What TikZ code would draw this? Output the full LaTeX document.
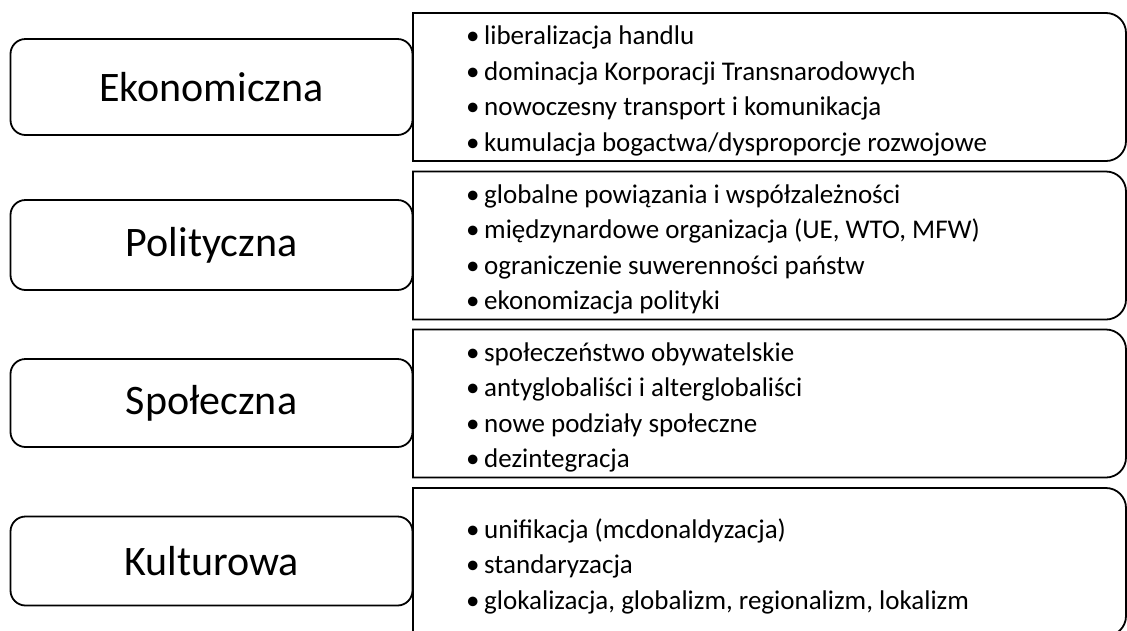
\documentclass[tikz,border=0pt]{standalone}
\usepackage{fontspec}
\setmainfont{Carlito}
\usetikzlibrary{calc}
\newcommand\bul[1]{\makebox[18pt][l]{•}#1}
\begin{document}
\begin{tikzpicture}[x=1pt,y=1pt,
  boxline/.style={draw=black,line width=1.8pt},
  catbox/.style={boxline,fill=white,rounded corners=15pt,minimum width=402pt,inner sep=0pt,outer sep=0pt,font=\fontsize{42}{50}\selectfont},
  rarea/.style={draw=none,minimum width=713pt,minimum height=148pt,inner sep=0pt,outer sep=0pt},
  itemtext/.style={anchor=west,align=left,inner sep=0pt,font=\fontsize{27}{35.5}\selectfont}]
\useasboundingbox (0,0) rectangle (1127,-630);
\clip (0,0) rectangle (1127,-630);
% right areas
\node[rarea] (r1) at (769.5,-87) {};
\node[rarea] (r2) at (769.5,-245.5) {};
\node[rarea] (r3) at (769.5,-403.5) {};
\node[rarea] (r4) at (769.5,-562) {};
\foreach \r in {r1,r2,r3,r4}{
  \draw[boxline] (\r.north west) -- ($(\r.north east)+(-20,0)$) arc[start angle=90,end angle=0,radius=20]
    -- ($(\r.south east)+(0,20)$) arc[start angle=0,end angle=-90,radius=20] -- (\r.south west) -- cycle;
}
\node[itemtext] (t1) at ($(r1.west)+(53,-4)$) {\bul{liberalizacja handlu}\\\bul{dominacja Korporacji Transnarodowych}\\\bul{nowoczesny transport i komunikacja}\\\bul{kumulacja bogactwa/dysproporcje rozwojowe}};
\node[itemtext] (t2) at ($(r2.west)+(53,-4)$) {\bul{globalne powiązania i współzależności}\\\bul{międzynardowe organizacja (UE, WTO, MFW)}\\\bul{ograniczenie suwerenności państw}\\\bul{ekonomizacja polityki}};
\node[itemtext] (t3) at ($(r3.west)+(53,-4)$) {\bul{społeczeństwo obywatelskie}\\\bul{antyglobaliści i alterglobaliści}\\\bul{nowe podziały społeczne}\\\bul{dezintegracja}};
\node[itemtext] (t4) at ($(r4.west)+(53,-4)$) {\bul{unifikacja (mcdonaldyzacja)}\\\bul{standaryzacja}\\\bul{glokalizacja, globalizm, regionalizm, lokalizm}};
% left category boxes
\node[catbox,minimum height=96pt] (c1) at (211.5,-87) {Ekonomiczna};
\node[catbox,minimum height=90pt] (c2) at (211.5,-245) {Polityczna};
\node[catbox,minimum height=88pt] (c3) at (211.5,-403) {Społeczna};
\node[catbox,minimum height=89pt] (c4) at (211.5,-561) {Kulturowa};
\end{tikzpicture}
\end{document}
